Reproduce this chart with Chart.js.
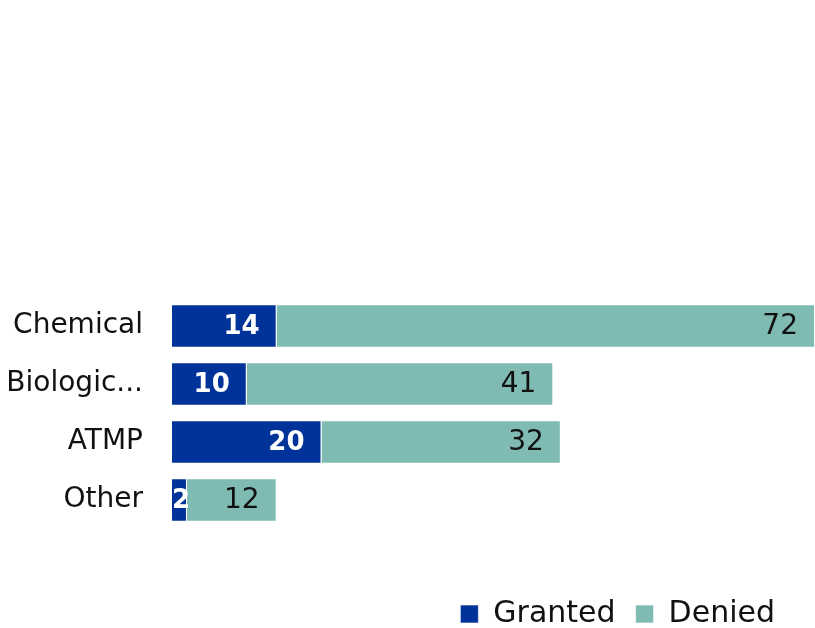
<!DOCTYPE html>
<html>
<head>
<meta charset="utf-8">
<script src="https://cdn.jsdelivr.net/npm/chart.js@4"></script>
<style>
	body { margin: 0; background: #fff; }
	#wrap { width: 815px; height: 628px; position: relative; }
</style>
</head>
<body>
<div id="wrap"><canvas id="myChart"></canvas></div>
<script>
const categories = ['Chemical', 'Biologic...', 'ATMP', 'Other'];
const granted = [14, 10, 20, 2];
const denied = [72, 41, 32, 12];

const FONT = "'DejaVu Sans', Verdana, sans-serif";

// value labels, right aligned inside each segment
const barLabels = {
	id: 'barLabels',
	afterDatasetsDraw(chart) {
		const ctx = chart.ctx;
		ctx.save();
		chart.data.datasets.forEach((ds, i) => {
			const meta = chart.getDatasetMeta(i);
			ctx.font = ds.labelFont;
			ctx.fillStyle = ds.labelColor;
			ctx.textBaseline = 'middle';
			ctx.textAlign = 'left';
			meta.data.forEach((bar, j) => {
				const p = bar.getProps(['x', 'y', 'base'], true);
				const txt = String(ds.data[j]);
				const w = ctx.measureText(txt).width;
				let left = p.x - 17 - w;
				if (left < p.base) left = p.base;
				ctx.fillText(txt, left, p.y + 1);
			});
		});
		ctx.restore();
	}
};

// move legend to bottom right like the original
const legendShift = {
	id: 'legendShift',
	afterLayout(chart) {
		const lg = chart.legend;
		lg.left -= 20; lg.right -= 20;
		lg.top += 50; lg.bottom += 50;
	}
};

var ctx = document.getElementById('myChart').getContext('2d');
var myChart = new Chart(ctx, {
	type: 'bar',
	data: {
		labels: categories,
		datasets: [
			{
				label: 'Granted',
				data: granted,
				backgroundColor: '#003399',
				borderColor: 'rgba(255,255,255,0.6)',
				borderWidth: 1,
				labelFont: 'bold 26px ' + FONT,
				labelColor: '#ffffff'
			},
			{
				label: 'Denied',
				data: denied,
				backgroundColor: '#7fbbb2',
				borderColor: 'rgba(255,255,255,0.6)',
				borderWidth: 1,
				labelFont: '28px ' + FONT,
				labelColor: '#111111'
			}
		]
	},
	plugins: [barLabels, legendShift],
	options: {
		indexAxis: 'y',
		responsive: true,
		maintainAspectRatio: false,
		animation: false,
		layout: { padding: { top: 297, bottom: 39, left: 0, right: 0 } },
		datasets: {
			bar: { categoryPercentage: 0.75, barPercentage: 1 }
		},
		plugins: {
			legend: {
				position: 'bottom',
				align: 'end',
				labels: {
					boxWidth: 18,
					boxHeight: 18,
					padding: 20,
					color: '#111',
					font: { family: FONT, size: 30 }
				}
			},
			tooltip: { enabled: false }
		},
		scales: {
			x: {
				stacked: true,
				display: false,
				min: 0,
				max: 86
			},
			y: {
				stacked: true,
				grid: { display: false },
				border: { display: false },
				afterFit(axis) { axis.width = 172; },
				ticks: {
					padding: 21,
					color: '#111',
					font: { family: FONT, size: 28 }
				}
			}
		}
	}
});
</script>
</body>
</html>
